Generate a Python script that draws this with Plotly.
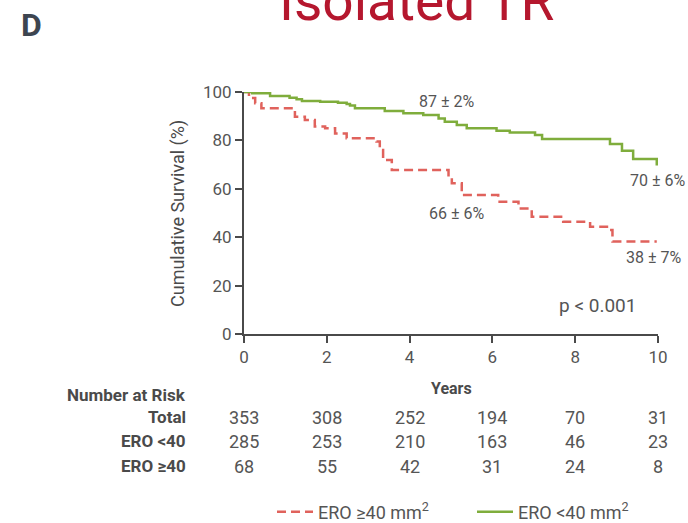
import plotly.graph_objects as go

# ---- data ----
years_ge40 = [0, 0.12, 0.27, 0.42, 1.23, 1.47, 1.71, 1.96, 2.2, 2.48, 3.2, 3.28, 3.36, 3.57,
              4.94, 5.02, 5.26, 6.14, 6.63, 6.95, 7.71, 8.36, 8.84, 8.9, 9.97]
surv_ge40 = [100, 97.5, 95.3, 93.3, 89.8, 88.4, 85.7, 85.0, 82.9, 80.9, 79.5, 76.0, 71.9, 67.8,
             65.0, 62.3, 57.4, 54.7, 51.9, 48.5, 46.4, 44.3, 43.0, 38.2, 38.2]

years_lt40 = [0, 0.2, 0.63, 1.1, 1.27, 1.4, 1.84, 2.27, 2.48, 2.56, 2.68, 3.4, 3.85, 4.33, 4.7,
              4.85, 5.14, 5.38, 6.1, 6.42, 7.03, 7.2, 8.84, 9.13, 9.4, 9.97, 10]
surv_lt40 = [100, 99.5, 98.3, 97.6, 97.0, 96.3, 96.0, 95.6, 95.0, 94.4, 93.3, 92.1, 91.2, 90.5, 89.1,
             87.7, 86.4, 85.0, 84.0, 83.3, 82.2, 80.6, 78.5, 75.7, 72.3, 70.1, 70.1]

risk_years = [0, 2, 4, 6, 8, 10]
risk_rows = ["Total", "ERO <40", "ERO ≥40"]
risk_total = [353, 308, 252, 194, 70, 31]
risk_lt40 = [285, 253, 210, 163, 46, 23]
risk_ge40 = [68, 55, 42, 31, 24, 8]

curve_labels = ["87 ± 2%", "66 ± 6%", "70 ± 6%", "38 ± 7%"]

FONT = "Roboto, Lato, sans-serif"
TXT = "#555555"
LBL = "#4a4a4a"
AX = "#4a4a4a"
RED = "#e0625c"
GREEN = "#7fad3c"

fig = go.Figure()
fig.add_trace(go.Scatter(x=years_ge40, y=surv_ge40, mode="lines", line_shape="hv",
                         line=dict(color=RED, width=2.5, dash="9px,5px"),
                         name="ERO ≥40 mm<sup>2</sup>", legend="legend"))
fig.add_trace(go.Scatter(x=years_lt40, y=surv_lt40, mode="lines", line_shape="hv",
                         line=dict(color=GREEN, width=2.5),
                         name="ERO <40 mm<sup>2</sup>", legend="legend2"))

W, H = 688, 523
L, R, T, B = 244, 30, 92, 189
PW, PH = W - L - R, H - T - B


def px_x(p):
    return (p - L) / PW


def px_y(p):
    return (H - B - p) / PH


ann = []
# Title and panel letter
ann.append(dict(text="Isolated TR", x=px_x(416), y=px_y(1), xref="paper", yref="paper",
                showarrow=False, font=dict(size=55, color="#b5172e", family=FONT),
                xanchor="center", yanchor="middle"))
ann.append(dict(text="<b>D</b>", x=px_x(31), y=px_y(25), xref="paper", yref="paper",
                showarrow=False, font=dict(size=32, color="#3d4550", family=FONT),
                xanchor="center", yanchor="middle"))
# y axis title
ann.append(dict(text="Cumulative Survival (%)", x=px_x(178), y=px_y(214), xref="paper",
                yref="paper", textangle=-90, showarrow=False,
                font=dict(size=18, color=LBL, family=FONT), xanchor="center", yanchor="middle"))
# x axis title
ann.append(dict(text="<b>Years</b>", x=5, y=px_y(388), xref="x", yref="paper", showarrow=False,
                font=dict(size=16, color=LBL, family=FONT), xanchor="center", yanchor="middle"))
# curve labels
label_pos = [(4.88, 95.9), (5.14, 50.0), (9.98, 63.6), (9.9, 31.8)]
for t, (lx, ly) in zip(curve_labels, label_pos):
    ann.append(dict(text=t, x=lx, y=ly, xref="x", yref="y", showarrow=False,
                    font=dict(size=16, color=TXT, family=FONT), xanchor="center", yanchor="middle"))
ann.append(dict(text="p < 0.001", x=8.53, y=11.6, xref="x", yref="y", showarrow=False,
                font=dict(size=19, color=TXT, family=FONT), xanchor="center", yanchor="middle"))

# risk table
ann.append(dict(text="<b>Number at Risk</b>", x=px_x(188), y=px_y(395), xref="paper", yref="paper",
                showarrow=False, font=dict(size=17, color=LBL, family=FONT),
                xanchor="right", yanchor="middle"))
row_y = [417, 441, 466]
for name, vals, ry in zip(risk_rows, [risk_total, risk_lt40, risk_ge40], row_y):
    ann.append(dict(text=f"<b>{name}</b>", x=px_x(188), y=px_y(ry), xref="paper", yref="paper",
                    showarrow=False, font=dict(size=17, color=LBL, family=FONT),
                    xanchor="right", yanchor="middle"))
    for xv, v in zip(risk_years, vals):
        ann.append(dict(text=str(v), x=xv, y=px_y(ry), xref="x", yref="paper", showarrow=False,
                        font=dict(size=18, color=TXT, family=FONT),
                        xanchor="center", yanchor="middle"))

legend_common = dict(orientation="h", yanchor="middle", xanchor="left", itemwidth=36,
                     font=dict(size=18, color=TXT, family=FONT), bgcolor="rgba(0,0,0,0)")

fig.update_layout(
    width=W, height=H,
    margin=dict(l=L, r=R, t=T, b=B, autoexpand=False),
    paper_bgcolor="white", plot_bgcolor="white",
    font=dict(family=FONT, color=TXT, size=16),
    annotations=ann,
    showlegend=True,
    legend=dict(x=px_x(272), y=px_y(512), **legend_common),
    legend2=dict(x=px_x(472), y=px_y(512), **legend_common),
    xaxis=dict(range=[0, 10], tickvals=[0, 2, 4, 6, 8, 10], showgrid=False, zeroline=False,
               showline=True, linecolor=AX, linewidth=2, ticks="outside", ticklen=7,
               tickwidth=2, tickcolor=AX, tickfont=dict(size=17, color=TXT, family=FONT)),
    yaxis=dict(range=[0, 100], tickvals=[0, 20, 40, 60, 80, 100], showgrid=False, zeroline=False,
               showline=True, linecolor=AX, linewidth=2, ticks="outside", ticklen=7,
               tickwidth=2, tickcolor=AX, tickfont=dict(size=17, color=TXT, family=FONT)),
)

fig.write_html("out.html")
